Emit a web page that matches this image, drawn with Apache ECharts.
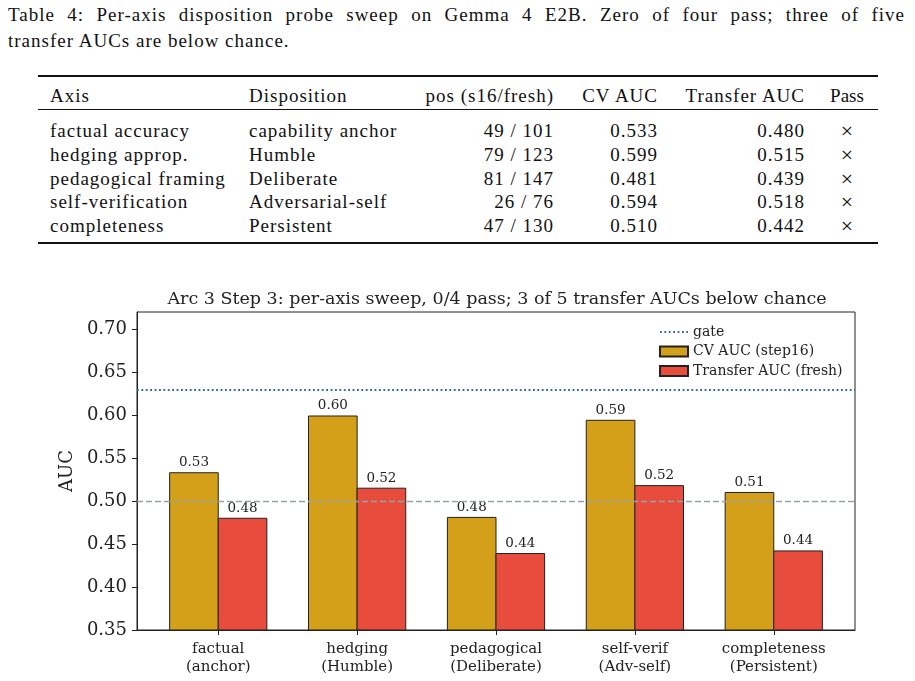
<!DOCTYPE html>
<html>
<head>
<meta charset="utf-8">
<script src="https://cdn.jsdelivr.net/npm/echarts@6/dist/echarts.min.js"></script>
<style>
  body { margin: 0; background: #fff; width: 915px; height: 681px; overflow: hidden; position: relative; }
  .tex { font-family: "Liberation Serif", serif; font-size: 19px; letter-spacing: 1px; color: #111; position: absolute; white-space: nowrap; }
  .rule { position: absolute; left: 38px; width: 840px; background: #111; }
  #chart { position: absolute; left: 0; top: 270px; width: 915px; height: 411px; }
</style>
</head>
<body>
<div class="tex" style="left:8px; top:4px; width:897px; text-align:justify; text-align-last:justify;">Table 4: Per-axis disposition probe sweep on Gemma 4 E2B. Zero of four pass; three of five</div>
<div class="tex" style="left:8px; top:30px;">transfer AUCs are below chance.</div>
<div class="rule" style="top:75px; height:2px;"></div>
<div class="rule" style="top:109px; height:1.3px;"></div>
<div class="rule" style="top:242px; height:2px;"></div>
<div id="table"></div>
<div id="chart"></div>
<script>
// table rows
const axisNames = ['factual accuracy', 'hedging approp.', 'pedagogical framing', 'self-verification', 'completeness'];
const dispositions = ['capability anchor', 'Humble', 'Deliberate', 'Adversarial-self', 'Persistent'];
const posS16 = [49, 79, 81, 26, 47];
const posFresh = [101, 123, 147, 76, 130];
const cvAuc = [0.533, 0.599, 0.481, 0.594, 0.510];
const transferAuc = [0.480, 0.515, 0.439, 0.518, 0.442];
const passed = [false, false, false, false, false];
const headers = ['Axis', 'Disposition', 'pos (s16/fresh)', 'CV AUC', 'Transfer AUC', 'Pass'];

// chart
const categories = ['factual\n(anchor)', 'hedging\n(Humble)', 'pedagogical\n(Deliberate)', 'self-verif\n(Adv-self)', 'completeness\n(Persistent)'];
const gate = 0.63;
const chance = 0.50;
const yTicks = [0.35, 0.40, 0.45, 0.50, 0.55, 0.60, 0.65, 0.70];

// 表格：每列的对齐方式和锚点
const cols = [
  { x: 50, align: 'left' },
  { x: 249, align: 'left' },
  { x: 554, align: 'right' },
  { x: 658, align: 'right' },
  { x: 805, align: 'right' },
  { x: 847, align: 'center' }
];
const rowY = [131, 155, 179, 202, 226];
const table = document.getElementById('table');

function cell(text, col, cy, size) {
  const d = document.createElement('div');
  d.className = 'tex';
  d.textContent = text;
  d.style.top = (cy - 12) + 'px';
  d.style.lineHeight = '24px';
  if (size) d.style.fontSize = size + 'px';
  if (col.align === 'left') d.style.left = col.x + 'px';
  else if (col.align === 'right') d.style.right = (915 - col.x) + 'px';
  else { d.style.left = (col.x - 40) + 'px'; d.style.width = '80px'; d.style.textAlign = 'center'; d.style.letterSpacing = '0'; }
  table.appendChild(d);
}

headers.forEach((h, j) => cell(h, cols[j], 96));
for (let i = 0; i < axisNames.length; i++) {
  const vals = [
    axisNames[i], dispositions[i], posS16[i] + ' / ' + posFresh[i],
    cvAuc[i].toFixed(3), transferAuc[i].toFixed(3)
  ];
  vals.forEach((v, j) => cell(v, cols[j], rowY[i]));
  // Pass 列的符号稍大一点
  cell(passed[i] ? '\u2713' : '\u00d7', cols[5], rowY[i], 22);
}

const myChart = echarts.init(document.getElementById('chart'));
const font = 'DejaVu Serif';
const barW = 0.35;

// 用 custom series 画柱子，宽度按坐标轴单位计算
function barSeries(name, values, offset, color) {
  return {
    name: name,
    type: 'custom',
    itemStyle: { color: color, borderColor: '#222', borderWidth: 1 },
    data: values.map((v, i) => [i, v]),
    renderItem: function (params, api) {
      const x = api.value(0), y = api.value(1);
      const p0 = api.coord([x + offset - barW / 2, y]);
      const p1 = api.coord([x + offset + barW / 2, 0.35]);
      return {
        type: 'group',
        children: [
          {
            type: 'rect',
            shape: { x: p0[0], y: p0[1], width: p1[0] - p0[0], height: p1[1] - p0[1] },
            style: { fill: color, stroke: '#222', lineWidth: 1 }
          },
          {
            type: 'text',
            style: {
              text: y.toFixed(2), x: (p0[0] + p1[0]) / 2, y: p0[1] - 3,
              align: 'center', verticalAlign: 'bottom',
              fontFamily: font, fontSize: 13.5, fill: '#222'
            }
          }
        ]
      };
    }
  };
}

myChart.setOption({
  animation: false,
  title: {
    text: 'Arc 3 Step 3: per-axis sweep, 0/4 pass; 3 of 5 transfer AUCs below chance',
    left: 492, top: 15, textAlign: 'center',
    textStyle: { fontFamily: font, fontSize: 17.5, fontWeight: 'normal', color: '#222' }
  },
  legend: {
    orient: 'vertical',
    left: 654, top: 50,
    itemWidth: 28, itemHeight: 10, itemGap: 5.5,
    selectedMode: false,
    textStyle: { fontFamily: font, fontSize: 14, color: '#222' },
    data: [
      { name: 'gate', itemStyle: { opacity: 0 } },
      { name: 'CV AUC (step16)', icon: 'rect' },
      { name: 'Transfer AUC (fresh)', icon: 'rect' }
    ]
  },
  grid: {
    left: 137, right: 60, top: 42, bottom: 51,
    show: true, borderColor: '#222', borderWidth: 1
  },
  xAxis: {
    type: 'value',
    min: -0.585, max: 4.585,
    splitLine: { show: false },
    axisLine: { onZero: false, lineStyle: { color: '#222' } },
    axisTick: { customValues: [0, 1, 2, 3, 4], length: 5, lineStyle: { color: '#222' } },
    axisLabel: {
      customValues: [0, 1, 2, 3, 4],
      formatter: v => categories[Math.round(v)],
      fontFamily: font, fontSize: 15, color: '#222', lineHeight: 18, margin: 10
    }
  },
  yAxis: {
    type: 'value',
    min: 0.35, max: 0.72,
    name: 'AUC', nameLocation: 'middle', nameGap: 58,
    nameTextStyle: { fontFamily: font, fontSize: 18, color: '#222' },
    splitLine: { show: false },
    axisLine: { show: true, onZero: false, lineStyle: { color: '#222' } },
    axisTick: { customValues: yTicks, length: 5, lineStyle: { color: '#222' } },
    axisLabel: {
      customValues: yTicks,
      formatter: v => v.toFixed(2),
      fontFamily: font, fontSize: 18, color: '#222', margin: 10
    }
  },
  series: [
    {
      name: 'gate',
      type: 'line',
      data: [],
      symbol: 'none',
      lineStyle: { type: [1.8, 2.6], color: '#2e6a8f', width: 1.8 },
      itemStyle: { color: '#2e6a8f' },
      markLine: {
        silent: true, symbol: ['none', 'none'], label: { show: false },
        lineStyle: { type: [1.8, 2.6], color: '#2e6a8f', width: 1.8 },
        data: [{ yAxis: gate }]
      }
    },
    {
      name: 'chance',
      type: 'line',
      data: [],
      symbol: 'none',
      markLine: {
        silent: true, symbol: ['none', 'none'], label: { show: false },
        lineStyle: { type: [6, 3], color: '#95a5a6', width: 1.4 },
        data: [{ yAxis: chance }]
      }
    },
    barSeries('CV AUC (step16)', cvAuc, -barW / 2, '#d4a01a'),
    barSeries('Transfer AUC (fresh)', transferAuc, barW / 2, '#e74c3c')
  ]
});
</script>
</body>
</html>
